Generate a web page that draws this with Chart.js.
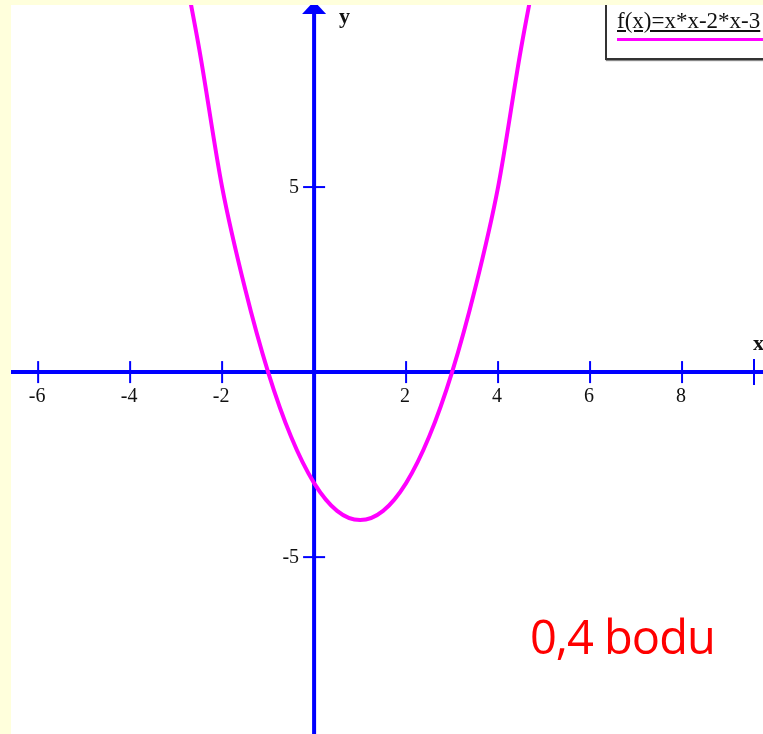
<!DOCTYPE html>
<html>
<head>
<meta charset="utf-8">
<script src="https://cdn.jsdelivr.net/npm/chart.js@4"></script>
<style>
  html, body { margin: 0; padding: 0; }
  body { width: 763px; height: 734px; background: #ffffdc; position: relative; overflow: hidden; }
  #wrap { position: absolute; left: 11px; top: 5px; width: 752px; height: 729px; background: #fff; }
  #legend {
    position: absolute; left: 605px; top: 5px; width: 175px; height: 55px;
    border: 2px solid #333; border-top: none; background: #fff; box-sizing: border-box;
    box-shadow: 1px 1px 1px #888;
  }
  #legend span {
    position: absolute; left: 10px; top: 3px; white-space: nowrap;
    font: 23px "Liberation Serif", serif; color: #111; text-decoration: underline;
  }
  #legend i { position: absolute; left: 10px; top: 33px; width: 170px; height: 3px; background: #ff00ff; }
  #score {
    position: absolute; left: 530px; top: 604px;
    font: 47px "Open Sans", sans-serif; color: #ff0000; letter-spacing: -1px;
  }
</style>
</head>
<body>
<div id="wrap"><canvas id="c" width="752" height="729"></canvas></div>
<div id="legend"><span id="legendText"></span><i></i></div>
<div id="score">0,4 bodu</div>
<script>
// points
const xValues = [-3, -2.5, -2, -1.5, -1, -0.5, 0, 0.5, 1, 1.5, 2, 2.5, 3, 3.5, 4, 4.5, 5];
const yValues = [12, 8.75, 5, 2.25, 0, -1.75, -3, -3.75, -4, -3.75, -3, -1.75, 0, 2.25, 5, 8.75, 12];
const xTicks = [-6, -4, -2, 2, 4, 6, 8];
const yTicks = [5, -5];
const legendLabel = 'f(x)=x*x-2*x-3';

document.getElementById('legendText').textContent = legendLabel;

const axesPlugin = {
  id: 'axes',
  beforeDatasetsDraw(chart) {
    const ctx = chart.ctx;
    const sx = chart.scales.x, sy = chart.scales.y;
    const x0 = sx.getPixelForValue(0), y0 = sy.getPixelForValue(0);
    const area = chart.chartArea;
    ctx.save();
    ctx.strokeStyle = '#0000ff';
    ctx.fillStyle = '#0000ff';
    // main axes
    ctx.lineWidth = 4;
    ctx.beginPath();
    ctx.moveTo(area.left, y0); ctx.lineTo(area.right, y0);
    ctx.moveTo(x0, area.bottom); ctx.lineTo(x0, area.top + 6);
    ctx.stroke();
    // y arrow head
    ctx.beginPath();
    ctx.moveTo(x0 - 12, area.top + 9);
    ctx.lineTo(x0 + 12, area.top + 9);
    ctx.lineTo(x0, area.top - 4);
    ctx.closePath();
    ctx.fill();
    // x arrow end
    ctx.lineWidth = 2;
    ctx.beginPath();
    ctx.moveTo(area.right - 9, y0 - 13); ctx.lineTo(area.right - 9, y0 + 13);
    ctx.stroke();
    // ticks
    ctx.font = '20px "Liberation Serif", serif';
    ctx.textAlign = 'center';
    ctx.textBaseline = 'middle';
    xTicks.forEach(v => {
      const px = sx.getPixelForValue(v);
      ctx.beginPath();
      ctx.moveTo(px, y0 - 11); ctx.lineTo(px, y0 + 11);
      ctx.stroke();
      ctx.fillStyle = '#111';
      ctx.fillText(String(v), px - 1, y0 + 25);
    });
    ctx.textAlign = 'right';
    yTicks.forEach(v => {
      const py = sy.getPixelForValue(v);
      ctx.beginPath();
      ctx.moveTo(x0 - 11, py); ctx.lineTo(x0 + 11, py);
      ctx.stroke();
      ctx.fillStyle = '#111';
      ctx.fillText(String(v), x0 - 15, py + 1);
    });
    // axis names
    ctx.font = 'bold 22px "Liberation Serif", serif';
    ctx.textAlign = 'left';
    ctx.fillText('y', x0 + 25, area.top + 12);
    ctx.fillText('x', area.right - 10, y0 - 28);
    ctx.restore();
  }
};

new Chart(document.getElementById('c'), {
  type: 'scatter',
  data: {
    datasets: [{
      label: legendLabel,
      data: xValues.map((x, i) => ({ x: x, y: yValues[i] })),
      showLine: true,
      borderColor: '#ff00ff',
      borderWidth: 4,
      pointRadius: 0,
      cubicInterpolationMode: 'monotone',
      fill: false
    }]
  },
  options: {
    responsive: false,
    maintainAspectRatio: false,
    animation: false,
    layout: { padding: 0 },
    plugins: { legend: { display: false }, tooltip: { enabled: false } },
    scales: {
      x: { type: 'linear', min: -6.59, max: 9.76, display: false },
      y: { type: 'linear', min: -9.78, max: 9.92, display: false }
    }
  },
  plugins: [axesPlugin]
});
</script>
</body>
</html>
